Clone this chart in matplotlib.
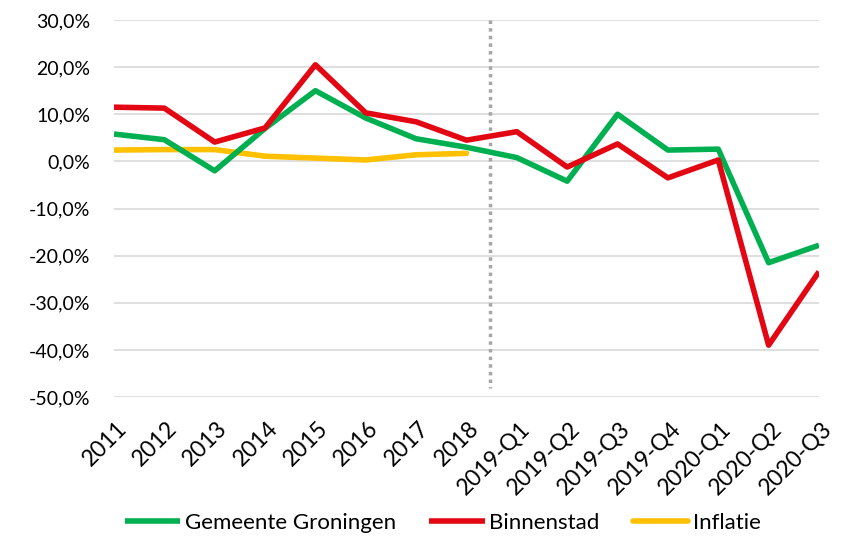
import matplotlib.pyplot as plt
import matplotlib.transforms as mtransforms
from matplotlib.ticker import FuncFormatter

categories = ['2011', '2012', '2013', '2014', '2015', '2016', '2017', '2018',
              '2019-Q1', '2019-Q2', '2019-Q3', '2019-Q4', '2020-Q1', '2020-Q2', '2020-Q3']

gemeente = [5.8, 4.6, -2.0, 7.0, 15.0, 9.2, 4.8, 3.0, 0.8, -4.2, 10.0, 2.4, 2.6, -21.5, -17.8]
binnenstad = [11.5, 11.3, 4.1, 7.1, 20.5, 10.3, 8.4, 4.5, 6.3, -1.2, 3.7, -3.5, 0.3, -39.0, -23.4]
inflatie = [2.4, 2.5, 2.5, 1.1, 0.7, 0.3, 1.4, 1.7]

plt.rcParams['font.family'] = ['Lato', 'DejaVu Sans']

fig = plt.figure(figsize=(8.43, 5.36), dpi=100)
ax = fig.add_axes([0.1352, 0.2593, 0.8363, 0.7034])

x = list(range(len(categories)))
lw = 4
ax.plot(x, gemeente, color='#00b050', lw=lw, label='Gemeente Groningen', solid_capstyle='butt', zorder=3)
ax.plot(x, binnenstad, color='#e30613', lw=lw, label='Binnenstad', solid_capstyle='butt', zorder=4)
ax.plot(x[:len(inflatie)], inflatie, color='#ffc000', lw=lw, label='Inflatie', solid_capstyle='round', zorder=2)

# vertical separator between years and quarters
ax.plot([7.47, 7.47], [30, -48], color='#a6a6a6', lw=2.5, linestyle=(0, (1, 1.2)), zorder=1)

ax.set_ylim(-50, 30)
ax.set_xlim(0, 14)
ax.set_yticks(range(-50, 31, 10))
ax.yaxis.set_major_formatter(FuncFormatter(lambda v, p: f'{v:.1f}%'.replace('.', ',')))
ax.grid(axis='y', color='#d9d9d9', lw=1.2)
ax.set_axisbelow(True)

ax.set_xticks(x)
ax.set_xticklabels(categories, rotation=45, ha='right', rotation_mode='anchor')
ax.tick_params(axis='y', length=0, labelsize=14, colors='black', pad=17)
ax.tick_params(axis='x', length=0, labelsize=16.5, colors='black', pad=15)
for s in ax.spines.values():
    s.set_visible(False)
shift = mtransforms.ScaledTranslation(2 / 100, 0, fig.dpi_scale_trans)
for lbl in ax.get_xticklabels():
    lbl.set_clip_on(False)
    lbl.set_transform(lbl.get_transform() + shift)

fig.legend(loc='center', ncol=3, frameon=False, fontsize=16,
           bbox_to_anchor=(0.525, 0.025), handlelength=2.5, handletextpad=0.2,
           columnspacing=1.5)

fig.savefig('out.png', dpi=100)
